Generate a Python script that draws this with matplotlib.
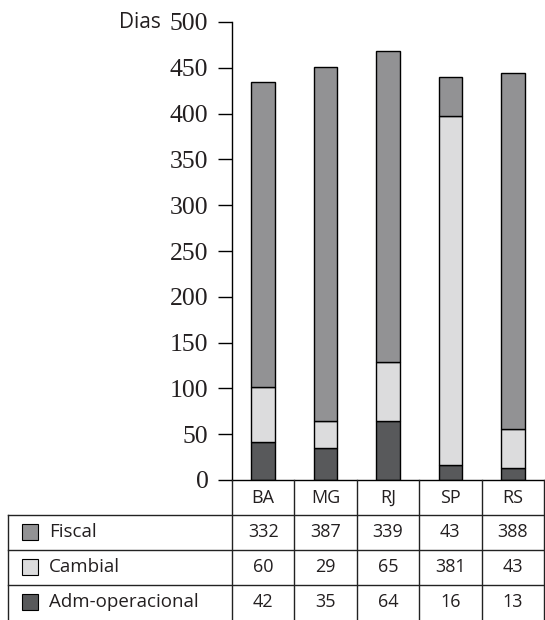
import matplotlib
matplotlib.use("Agg")
import matplotlib.pyplot as plt
from matplotlib.patches import Rectangle
from matplotlib.lines import Line2D

# data
estados = ["BA", "MG", "RJ", "SP", "RS"]
fiscal = [332, 387, 339, 43, 388]
cambial = [60, 29, 65, 381, 43]
adm = [42, 35, 64, 16, 13]
series_names = ["Fiscal", "Cambial", "Adm-operacional"]
cores = {"Fiscal": "#929294", "Cambial": "#dcdcdd", "Adm-operacional": "#58595b"}

W, H = 545, 620
fig = plt.figure(figsize=(W / 100, H / 100), dpi=100)

# axes in pixel coords: left 232, right 544, y0 at 480, y500 at 22
ax = fig.add_axes([232 / W, 140 / H, 312 / W, 458 / H])
x = list(range(len(estados)))
bw = 0.38
bottom2 = [a + c for a, c in zip(adm, cambial)]
ax.bar(x, adm, bw, color=cores["Adm-operacional"], edgecolor="black", linewidth=1)
ax.bar(x, cambial, bw, bottom=adm, color=cores["Cambial"], edgecolor="black", linewidth=1)
ax.bar(x, fiscal, bw, bottom=bottom2, color=cores["Fiscal"], edgecolor="black", linewidth=1)

ax.set_xlim(-0.5, len(estados) - 0.5)
ax.set_ylim(0, 500)
ax.set_yticks(range(0, 501, 50))
ax.set_yticklabels([str(v) for v in range(0, 501, 50)], family="Liberation Serif",
                   fontsize=18.5, color="#231f20")
ax.tick_params(axis="y", direction="out", length=10, width=1, pad=7)
ax.set_xticks([])
for s in ["top", "right"]:
    ax.spines[s].set_visible(False)
ax.spines["left"].set_linewidth(1)
ax.spines["bottom"].set_linewidth(1)

# table below the axes, drawn in figure pixel coords
def fx(px):
    return px / W

def fy(py):
    return 1 - py / H

tc = "#231f20"
fig.text(fx(161), fy(22), "Dias", ha="right", va="center", family="Open Sans",
         fontsize=15, color=tc)

lc = "#222222"
col_edges = [232 + k * 312 / 5 for k in range(6)]
for k, xe in enumerate(col_edges):
    fig.add_artist(Line2D([fx(xe), fx(xe)], [fy(480), fy(620)], color=lc, lw=1))
fig.add_artist(Line2D([fx(8), fx(8)], [fy(515), fy(620)], color=lc, lw=1))
for yy in [515, 550, 585]:
    fig.add_artist(Line2D([fx(8), fx(544)], [fy(yy), fy(yy)], color=lc, lw=1))

for i, e in enumerate(estados):
    xc = (col_edges[i] + col_edges[i + 1]) / 2
    fig.text(fx(xc), fy(498), e, ha="center", va="center", family="Open Sans",
             fontsize=13, color=tc)

valores = {"Fiscal": fiscal, "Cambial": cambial, "Adm-operacional": adm}
for r, nome in enumerate(series_names):
    yc = 532 + r * 35
    fig.add_artist(Rectangle((fx(22), fy(yc + 8)), 16 / W, 16 / H,
                             facecolor=cores[nome], edgecolor="black", lw=0.8))
    fig.text(fx(49), fy(yc), nome, ha="left", va="center", family="Open Sans",
             fontsize=13.5, color=tc)
    for i, v in enumerate(valores[nome]):
        xc = (col_edges[i] + col_edges[i + 1]) / 2
        fig.text(fx(xc), fy(yc), str(v), ha="center", va="center", family="Open Sans",
                 fontsize=13, color=tc)

fig.savefig("out.png", dpi=100)
